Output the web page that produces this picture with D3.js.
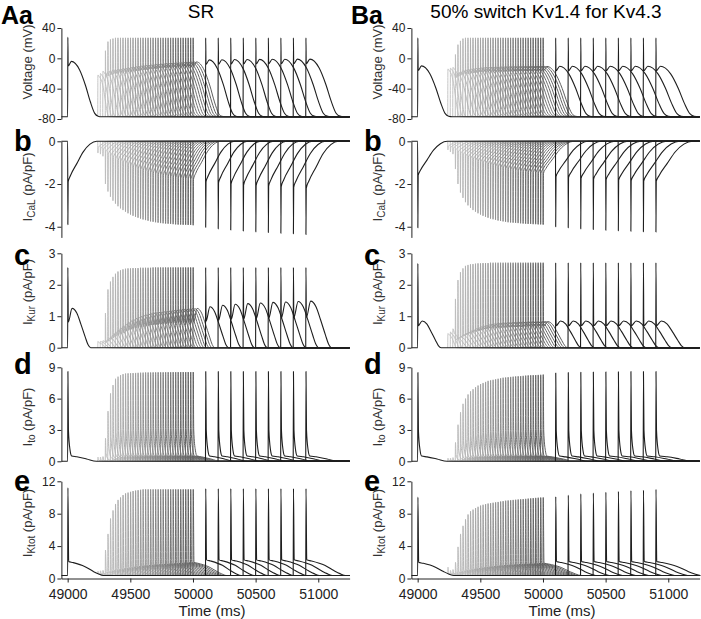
<!DOCTYPE html>
<html>
<head>
<meta charset="utf-8">
<script src="https://cdn.jsdelivr.net/npm/d3@7"></script>
<style>
  body { margin: 0; background: #fff; }
  svg { display: block; font-family: Arial, "Liberation Sans", sans-serif; }
</style>
</head>
<body>
<script>
// stimulus times: S1 first, then 39 closely spaced S2 (grey), then 9 late S2 (black)
const stimTimes = [49000,
  49240, 49260, 49280, 49300, 49320, 49340, 49360, 49380, 49400, 49420,
  49440, 49460, 49480, 49500, 49520, 49540, 49560, 49580, 49600, 49620,
  49640, 49660, 49680, 49700, 49720, 49740, 49760, 49780, 49800, 49820,
  49840, 49860, 49880, 49900, 49920, 49940, 49960, 49980, 50000,
  50100, 50200, 50300, 50400, 50500, 50600, 50700, 50800, 50900];
const nGray = 39;
const xTicks = [49000, 49500, 50000, 50500, 51000];
const tStart = 48950, tEnd = 51250;

// ---- column A (SR) ----
const apdA = [270,
  100, 105, 110, 130, 140, 148, 156, 163, 169, 175, 181, 186, 191, 196, 200, 204, 208, 212, 215, 218,
  221, 224, 227, 229, 231, 233, 235, 237, 239, 241, 243, 245, 247, 249, 250, 251, 252, 254, 256,
  270, 275, 280, 284, 288, 292, 296, 300, 303];
const vPeakA = [28,
  -22, -20, -17, 10, 22, 25, 26, 27, 27, 27, 27, 27, 27, 27, 27, 27, 27, 27, 27, 27,
  27, 27, 27, 27, 27, 27, 27, 27, 27, 27, 27, 27, 27, 27, 27, 27, 27, 27, 27,
  27, 27, 27, 27, 27, 27, 27, 27, 27];
const vDomeA = [-4,
  -24, -22, -19, -19, -17, -16, -15, -14.5, -14, -13.5, -13, -12.5, -12, -11.5, -11, -10.6, -10.2, -9.8, -9.5, -9.2,
  -8.9, -8.6, -8.3, -8, -7.7, -7.4, -7.1, -6.9, -6.7, -6.5, -6.3, -6.1, -5.9, -5.7, -5.5, -5.3, -5.1, -4.9, -4.7,
  -2, -1.8, -1.6, -1.5, -1.4, -1.3, -1.2, -1.1, -1];
const caPeakA = [-3.9,
  -0.55, -0.6, -0.7, -2.0, -2.35, -2.6, -2.78, -2.92, -3.04, -3.14, -3.22, -3.3, -3.37, -3.43, -3.49, -3.54, -3.58, -3.62, -3.66, -3.69,
  -3.72, -3.75, -3.77, -3.79, -3.81, -3.83, -3.84, -3.85, -3.86, -3.87, -3.88, -3.89, -3.9, -3.9, -3.91, -3.91, -3.92, -3.92, -3.93,
  -4.03, -4.1, -4.15, -4.2, -4.24, -4.27, -4.3, -4.33, -4.36];
const caPlatA = [-1.9,
  -0.3, -0.35, -0.4, -0.5, -0.6, -0.68, -0.75, -0.82, -0.88, -0.94, -1.0, -1.05, -1.1, -1.15, -1.2, -1.24, -1.28, -1.32, -1.36, -1.4,
  -1.43, -1.46, -1.49, -1.52, -1.55, -1.57, -1.59, -1.61, -1.63, -1.65, -1.67, -1.69, -1.71, -1.72, -1.73, -1.74, -1.75, -1.76, -1.78,
  -1.9, -1.95, -2.0, -2.05, -2.08, -2.1, -2.13, -2.16, -2.2];
const kurPeakA = [2.55,
  0.2, 0.2, 0.22, 1.1, 1.85, 2.1, 2.25, 2.35, 2.42, 2.46, 2.49, 2.51, 2.52, 2.52, 2.53, 2.53, 2.53, 2.54, 2.54, 2.54,
  2.54, 2.54, 2.55, 2.55, 2.55, 2.55, 2.55, 2.55, 2.55, 2.55, 2.55, 2.55, 2.55, 2.55, 2.55, 2.55, 2.55, 2.55, 2.55,
  2.55, 2.55, 2.55, 2.55, 2.55, 2.55, 2.55, 2.55, 2.55];
const kurDomeA = [1.25,
  0.15, 0.18, 0.2, 0.25, 0.32, 0.4, 0.48, 0.55, 0.62, 0.68, 0.74, 0.8, 0.85, 0.89, 0.93, 0.96, 0.99, 1.02, 1.04, 1.06,
  1.08, 1.1, 1.11, 1.12, 1.13, 1.14, 1.15, 1.16, 1.17, 1.18, 1.19, 1.2, 1.21, 1.22, 1.22, 1.23, 1.24, 1.24, 1.25,
  1.3, 1.35, 1.38, 1.4, 1.42, 1.44, 1.45, 1.47, 1.48];
const toPeakA = [8.6,
  0.4, 0.4, 0.45, 2.2, 4.8, 6.5, 7.3, 7.9, 8.1, 8.25, 8.35, 8.4, 8.42, 8.44, 8.45, 8.46, 8.47, 8.48, 8.49, 8.5,
  8.5, 8.5, 8.51, 8.51, 8.52, 8.52, 8.52, 8.53, 8.53, 8.53, 8.54, 8.54, 8.54, 8.55, 8.55, 8.55, 8.55, 8.55, 8.55,
  8.6, 8.6, 8.6, 8.6, 8.6, 8.6, 8.6, 8.6, 8.6];
const ktPeakA = [11.2,
  0.9, 0.95, 1.0, 3.5, 5.5, 7.4, 8.4, 9.2, 9.7, 10.0, 10.3, 10.5, 10.6, 10.7, 10.8, 10.85, 10.9, 10.95, 11, 11,
  11, 11, 11, 11, 11, 11, 11, 11, 11, 11, 11, 11, 11, 11, 11, 11, 11, 11, 11,
  11.1, 11.1, 11.1, 11.1, 11.1, 11.1, 11.1, 11.1, 11.1];
const ktPlatA = [2.1,
  0.6, 0.6, 0.6, 0.75, 0.82, 0.9, 0.97, 1.04, 1.1, 1.16, 1.22, 1.27, 1.32, 1.37, 1.41, 1.45, 1.49, 1.53, 1.56, 1.59,
  1.62, 1.65, 1.68, 1.7, 1.72, 1.74, 1.76, 1.78, 1.8, 1.82, 1.84, 1.86, 1.88, 1.9, 1.92, 1.94, 1.96, 1.98, 2.0,
  2.3, 2.3, 2.3, 2.3, 2.3, 2.3, 2.3, 2.3, 2.3];

// ---- column B (50% switch Kv1.4 for Kv4.3) ----
const apdB = [275,
  105, 110, 115, 150, 165, 178, 188, 197, 205, 212, 218, 224, 229, 234, 238, 242, 246, 249, 252, 255,
  258, 261, 263, 265, 267, 269, 271, 273, 275, 277, 279, 280, 282, 283, 285, 286, 287, 288, 290,
  305, 312, 318, 323, 327, 331, 334, 337, 340];
const vPeakB = [27,
  -14, -13, -12, 5, 18, 23, 26, 27, 27, 27, 27, 27, 27, 27, 27, 27, 27, 27, 27, 27,
  27, 27, 27, 27, 27, 27, 27, 27, 27, 27, 27, 27, 27, 27, 27, 27, 27, 27, 27,
  27, 27, 27, 27, 27, 27, 27, 27, 27];
const vDomeB = [-10,
  -16, -15, -14, -20, -18, -16.5, -15.5, -14.8, -14.2, -13.8, -13.4, -13.1, -12.8, -12.5, -12.3, -12.1, -12, -11.9, -11.8, -11.7,
  -11.6, -11.5, -11.4, -11.3, -11.2, -11.2, -11.1, -11.1, -11, -11, -11, -10.9, -10.9, -10.9, -10.8, -10.8, -10.8, -10.7, -10.7,
  -10.5, -10.5, -10.5, -10.5, -10.5, -10.5, -10.5, -10.5, -10.5];
const caPeakB = [-4.05,
  -0.4, -0.5, -0.6, -1.3, -2.0, -2.4, -2.65, -2.85, -3.0, -3.12, -3.22, -3.3, -3.37, -3.43, -3.49, -3.54, -3.58, -3.62, -3.65, -3.68,
  -3.71, -3.73, -3.75, -3.77, -3.79, -3.8, -3.81, -3.82, -3.83, -3.84, -3.85, -3.86, -3.87, -3.87, -3.88, -3.88, -3.89, -3.89, -3.9,
  -4.0, -4.05, -4.1, -4.13, -4.16, -4.19, -4.21, -4.23, -4.25];
const caPlatB = [-1.6,
  -0.25, -0.3, -0.35, -0.4, -0.5, -0.57, -0.63, -0.69, -0.74, -0.79, -0.84, -0.88, -0.92, -0.96, -1.0, -1.04, -1.07, -1.1, -1.13, -1.16,
  -1.19, -1.22, -1.24, -1.27, -1.29, -1.31, -1.33, -1.35, -1.37, -1.39, -1.41, -1.43, -1.44, -1.45, -1.46, -1.47, -1.48, -1.49, -1.5,
  -1.65, -1.7, -1.74, -1.77, -1.8, -1.82, -1.84, -1.86, -1.88];
const kurPeakB = [2.68,
  0.45, 0.5, 0.6, 1.55, 2.15, 2.4, 2.52, 2.6, 2.63, 2.65, 2.66, 2.67, 2.68, 2.68, 2.69, 2.69, 2.69, 2.7, 2.7, 2.7,
  2.7, 2.7, 2.7, 2.7, 2.7, 2.7, 2.7, 2.7, 2.7, 2.7, 2.7, 2.7, 2.7, 2.7, 2.7, 2.7, 2.7, 2.7, 2.7,
  2.7, 2.7, 2.7, 2.7, 2.7, 2.7, 2.7, 2.7, 2.7];
const kurDomeB = [0.85,
  0.4, 0.42, 0.45, 0.3, 0.35, 0.4, 0.45, 0.49, 0.53, 0.56, 0.6, 0.63, 0.66, 0.68, 0.7, 0.72, 0.74, 0.75, 0.76, 0.77,
  0.78, 0.78, 0.79, 0.79, 0.8, 0.8, 0.8, 0.81, 0.81, 0.81, 0.81, 0.82, 0.82, 0.82, 0.82, 0.82, 0.83, 0.83, 0.83,
  0.85, 0.85, 0.85, 0.85, 0.85, 0.85, 0.85, 0.85, 0.85];
const toPeakB = [8.5,
  0.3, 0.3, 0.35, 1.8, 3.5, 4.7, 5.5, 6.0, 6.4, 6.7, 6.9, 7.1, 7.25, 7.4, 7.5, 7.6, 7.7, 7.75, 7.8, 7.85,
  7.9, 7.95, 8.0, 8.02, 8.05, 8.08, 8.1, 8.12, 8.14, 8.16, 8.18, 8.2, 8.22, 8.24, 8.25, 8.26, 8.27, 8.28, 8.3,
  8.45, 8.5, 8.52, 8.55, 8.56, 8.58, 8.59, 8.6, 8.6];
const ktPeakB = [10.05,
  1.4, 1.0, 1.1, 2.0, 3.9, 5.5, 6.5, 7.3, 7.9, 8.3, 8.5, 8.7, 8.85, 9.0, 9.1, 9.18, 9.25, 9.3, 9.35, 9.4,
  9.45, 9.5, 9.55, 9.6, 9.63, 9.66, 9.7, 9.72, 9.75, 9.78, 9.8, 9.83, 9.86, 9.89, 9.92, 9.95, 9.97, 9.99, 10.0,
  10.1, 10.3, 10.45, 10.55, 10.65, 10.75, 10.85, 10.9, 11.0];
const ktPlatB = [2.0,
  0.6, 0.6, 0.6, 0.7, 0.78, 0.85, 0.92, 0.98, 1.04, 1.1, 1.15, 1.2, 1.25, 1.3, 1.34, 1.38, 1.42, 1.46, 1.5, 1.53,
  1.56, 1.59, 1.62, 1.64, 1.66, 1.68, 1.7, 1.72, 1.74, 1.76, 1.77, 1.78, 1.79, 1.8, 1.82, 1.84, 1.86, 1.88, 1.9,
  2.1, 2.1, 2.1, 2.1, 2.1, 2.1, 2.1, 2.1, 2.1];

// waveform templates (time as fraction of the trace duration, K = share of the way back to rest)
const vShapeT = [0.11, 0.35, 0.53, 0.67, 0.8, 0.9, 1.0];
const vShapeK = [0, 0.15, 0.44, 0.73, 0.94, 0.99, 1];
const caShapeT = [0.08, 0.27, 0.46, 0.66, 0.86];
const caShapeK = [0.15, 0.45, 0.74, 0.93, 1];
const kurShapeT = [0.13, 0.27, 0.39, 0.52, 0.6, 0.68];
const kurShapeK = [0, 0.12, 0.4, 0.73, 0.92, 1];
const toShapeT = [0.27, 0.56, 0.85];
const toShapeM = [0.05, 0.026, 0];
const ktShapeT = [0.15, 0.5, 0.75, 0.9, 1.05];
const ktShapeK = [0.07, 0.35, 0.7, 0.88, 1];

const columns = [
  { dx: 0, letter: "Aa", title: "SR", titleX: 201, apd: apdA, kurNotch: 0.65,
    v: [vPeakA, vDomeA], ca: [caPeakA, caPlatA], kur: [kurPeakA, kurDomeA], to: [toPeakA], kt: [ktPeakA, ktPlatA] },
  { dx: 350, letter: "Ba", title: "50% switch Kv1.4 for Kv4.3", titleX: 546, apd: apdB, kurNotch: 0.82,
    v: [vPeakB, vDomeB], ca: [caPeakB, caPlatB], kur: [kurPeakB, kurDomeB], to: [toPeakB], kt: [ktPeakB, ktPlatB] }
];

const rows = [
  { key: "v", rest: -77, domain: [-80, 40], range: [119, 28], ticks: [-80, -40, 0, 40],
    label: ["Voltage (mV)"], labelY: 62 },
  { key: "ca", rest: 0, domain: [-4.5, 0], range: [237.4, 141.3], ticks: [-4, -2, 0],
    label: ["I", "CaL", " (pA/pF)"], labelY: 187, letter: "b", letterY: 151 },
  { key: "kur", rest: 0, domain: [0, 3], range: [347.7, 253.3], ticks: [0, 1, 2, 3],
    label: ["I", "Kur", " (pA/pF)"], labelY: 292, letter: "c", letterY: 265 },
  { key: "to", rest: 0, domain: [0, 9], range: [461.3, 367.3], ticks: [0, 3, 6, 9],
    label: ["I", "to", " (pA/pF)"], labelY: 417, letter: "d", letterY: 374 },
  { key: "kt", rest: 0.37, domain: [0, 12], range: [578.5, 481.3], ticks: [0, 4, 8, 12],
    label: ["I", "Ktot", " (pA/pF)"], labelY: 523, letter: "e", letterY: 491 }
];

function fixTimes(p) {
  for (let j = 1; j < p.length; j++) {
    if (p[j][0] <= p[j - 1][0]) p[j][0] = p[j - 1][0] + 0.5;
  }
  return p;
}

function valueAt(p, t) {
  for (let j = 0; j < p.length - 1; j++) {
    if (t >= p[j][0] && t <= p[j + 1][0]) {
      const f = (t - p[j][0]) / (p[j + 1][0] - p[j][0]);
      return p[j][1] + f * (p[j + 1][1] - p[j][1]);
    }
  }
  return p[p.length - 1][1];
}

// key points of one trace starting at stimulus t0 from value s
function buildTrace(key, col, i, t0, s, rest) {
  const apd = col.apd[i];
  const p = [[t0, s]];
  if (key === "v") {
    const pk = col.v[0][i], dome = col.v[1][i];
    p.push([t0 + 1.5, pk]);
    if (pk - dome > 8) p.push([t0 + 4, dome - 6]);
    vShapeT.forEach((f, j) => p.push([t0 + f * apd, dome + vShapeK[j] * (rest - dome)]));
  } else if (key === "ca") {
    const pk = col.ca[0][i], plat = col.ca[1][i];
    p.push([t0 + 1.5, pk], [t0 + 4, plat]);
    caShapeT.forEach((f, j) => p.push([t0 + f * apd, plat * (1 - caShapeK[j])]));
  } else if (key === "kur") {
    const pk = col.kur[0][i], dome = col.kur[1][i];
    p.push([t0 + 1.5, pk]);
    if (pk > dome * 1.5) p.push([t0 + 5, dome * col.kurNotch]);
    kurShapeT.forEach((f, j) => p.push([t0 + f * apd, dome * (1 - kurShapeK[j])]));
  } else if (key === "to") {
    const pk = col.to[0][i];
    p.push([t0 + 2, pk], [t0 + 6, 0.35 * pk], [t0 + 19, 0.125 * pk], [t0 + 32, 0.06 * pk]);
    toShapeT.forEach((f, j) => p.push([t0 + f * apd, toShapeM[j] * pk]));
  } else {
    const pk = col.kt[0][i], plat = col.kt[1][i];
    p.push([t0 + 2, pk], [t0 + 8, plat]);
    ktShapeT.forEach((f, j) => p.push([t0 + f * apd, plat + ktShapeK[j] * (rest - plat)]));
  }
  p.push([tEnd, rest]);
  return fixTimes(p);
}

const svg = d3.select("body").append("svg").attr("width", 701).attr("height", 619);

const grayColor = d3.scaleLinear().domain([0, nGray - 1]).range(["#c6c6c6", "#5e5e5e"]);
function traceColor(i) {
  if (i === 0 || i > nGray) return "#1e1e1e";
  return grayColor(i - 1);
}

columns.forEach(col => {
  const g = svg.append("g");
  const x = d3.scaleLinear().domain([tStart, tEnd]).range([61.4 + col.dx, 349.6 + col.dx]);

  // column letter and title
  g.append("text").attr("x", col.dx + 1).attr("y", 24)
    .attr("font-size", 25).attr("font-weight", "bold").text(col.letter);
  g.append("text").attr("x", col.titleX).attr("y", 18).attr("text-anchor", "middle")
    .attr("font-size", 19).text(col.title);

  rows.forEach(row => {
    const y = d3.scaleLinear().domain(row.domain).range(row.range);
    const line = d3.line().x(d => x(d[0])).y(d => y(d[1])).curve(d3.curveMonotoneX);

    // S1 trace, then every S2 trace branches from it
    const base = [[tStart, row.rest]].concat(buildTrace(row.key, col, 0, stimTimes[0], row.rest, row.rest));
    const traces = stimTimes.map((t0, i) => {
      if (i === 0) return { i, pts: base };
      const s = valueAt(base, t0);
      return { i, pts: buildTrace(row.key, col, i, t0, s, row.rest) };
    });
    // grey first, then black, S1 last
    const order = traces.slice(1).concat([traces[0]]);

    g.append("g").selectAll("path")
      .data(order)
      .enter()
      .append("path")
      .attr("fill", "none")
      .attr("stroke", d => traceColor(d.i))
      .attr("stroke-width", d => (d.i === 0 || d.i > nGray) ? 1.1 : 1)
      .attr("stroke-linejoin", "round")
      .attr("d", d => line(d.pts));

    // y axis
    const ya = g.append("g").attr("transform", `translate(${61.4 + col.dx},0)`)
      .call(d3.axisLeft(y).tickValues(row.ticks).tickSize(4).tickPadding(2).tickSizeOuter(0)
        .tickFormat(d => String(d)));
    ya.selectAll("text").attr("font-size", 12).attr("font-family", "Arial, 'Liberation Sans', sans-serif").attr("fill", "#222");
    ya.selectAll("line, path").attr("stroke", "#222");

    // rotated label with subscript
    const lab = g.append("text")
      .attr("transform", `translate(${32 + col.dx},${row.labelY}) rotate(-90)`)
      .attr("text-anchor", "middle").attr("font-size", 13).attr("fill", "#333");
    if (row.label.length === 1) {
      lab.text(row.label[0]);
    } else {
      lab.append("tspan").text(row.label[0]);
      lab.append("tspan").attr("font-size", 10).attr("dy", 3).text(row.label[1]);
      lab.append("tspan").attr("dy", -3).text(row.label[2]);
    }

    if (row.letter) {
      g.append("text").attr("x", col.dx + 14).attr("y", row.letterY)
        .attr("font-size", 29).attr("font-weight", "bold").text(row.letter);
    }

    if (row.key === "kt") {
      const xa = g.append("g").attr("transform", `translate(0,${row.range[0]})`)
        .call(d3.axisBottom(x).tickValues(xTicks).tickSize(4).tickPadding(6.5).tickSizeOuter(0)
          .tickFormat(d => String(d)));
      xa.selectAll("text").attr("font-size", 14).attr("font-family", "Arial, 'Liberation Sans', sans-serif").attr("fill", "#222");
      xa.selectAll("line, path").attr("stroke", "#222");
      g.append("text").attr("x", 212 + col.dx).attr("y", 615.5).attr("text-anchor", "middle")
        .attr("font-size", 15).attr("fill", "#222").text("Time (ms)");
    }
  });
});
</script>
</body>
</html>
